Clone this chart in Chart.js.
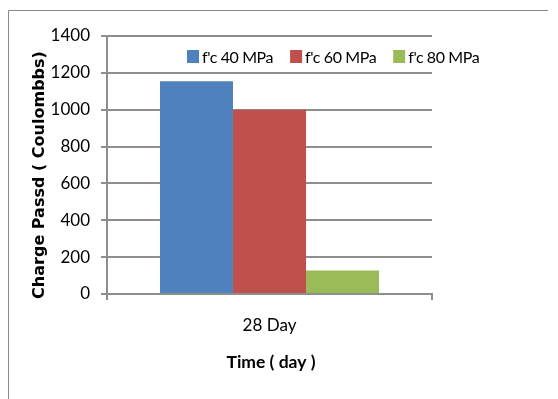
<!DOCTYPE html>
<html>
<head>
<meta charset="utf-8">
<script src="https://cdn.jsdelivr.net/npm/chart.js@4.4.1/dist/chart.umd.min.js"></script>
<style>
  html, body { margin: 0; padding: 0; background: #ffffff; }
  #wrap { width: 558px; height: 399px; position: relative; }
</style>
</head>
<body>
<div id="wrap"><canvas id="chart" width="558" height="399"></canvas></div>
<script>
// Chart data
const categories = ['28 Day'];
const seriesNames = ["f'c 40 MPa", "f'c 60 MPa", "f'c 80 MPa"];
const fc40 = [1155];
const fc60 = [1000];
const fc80 = [128];
const yTicks = [0, 200, 400, 600, 800, 1000, 1200, 1400];
const xTitle = 'Time ( day )';
const yTitle = 'Charge Passd ( Coulombbs)';

const colors = ['#4F81BD', '#C0504D', '#9BBB59'];
const narrow = "Lato, 'Liberation Sans', sans-serif";
const wide = "'DejaVu Sans', Verdana, sans-serif";
const gridGray = '#8e8e8e';

// Frame around the figure, axis titles and the in-plot legend
const decorations = {
  id: 'decorations',
  beforeDraw(chart) {
    const ctx = chart.ctx;
    ctx.save();
    ctx.strokeStyle = '#8a8a8a';
    ctx.lineWidth = 1;
    ctx.beginPath();
    ctx.moveTo(8.5, 399);
    ctx.lineTo(8.5, 10.5);
    ctx.lineTo(548, 10.5);
    ctx.stroke();
    ctx.restore();
  },
  afterDraw(chart) {
    const ctx = chart.ctx;
    ctx.save();
    ctx.fillStyle = '#000';
    // x axis title
    ctx.font = "bold 17.5px " + narrow;
    ctx.textAlign = 'center';
    ctx.textBaseline = 'middle';
    ctx.fillText(xTitle, 271, 362);
    // y axis title
    ctx.translate(40, 175);
    ctx.rotate(-Math.PI / 2);
    ctx.font = "bold 16px " + wide;
    ctx.fillText(yTitle, 0, 0);
    ctx.restore();

    // legend
    ctx.save();
    ctx.font = "16px " + narrow;
    ctx.letterSpacing = '-0.4px';
    ctx.textBaseline = 'middle';
    ctx.textAlign = 'left';
    let x = 187;
    const cy = 56.5;
    chart.data.datasets.forEach((ds) => {
      ctx.fillStyle = ds.backgroundColor;
      ctx.fillRect(x, cy - 6.5, 12, 13);
      ctx.fillStyle = '#000';
      ctx.fillText(ds.label, x + 15, cy + 1);
      x += 15 + ctx.measureText(ds.label).width + 17;
    });
    ctx.restore();
  }
};

new Chart(document.getElementById('chart'), {
  type: 'bar',
  data: {
    labels: categories,
    datasets: [
      { label: seriesNames[0], data: fc40, backgroundColor: colors[0] },
      { label: seriesNames[1], data: fc60, backgroundColor: colors[1] },
      { label: seriesNames[2], data: fc80, backgroundColor: colors[2] }
    ]
  },
  options: {
    responsive: false,
    animation: false,
    devicePixelRatio: 1,
    layout: { padding: { top: 36, right: 126, left: 0, bottom: 0 } },
    datasets: { bar: { categoryPercentage: 0.674, barPercentage: 1.0, borderWidth: 0 } },
    plugins: {
      legend: { display: false },
      tooltip: { enabled: false }
    },
    scales: {
      x: {
        afterFit(scale) { scale.height = 105; },
        grid: { drawOnChartArea: false, drawTicks: true, tickLength: 6, color: gridGray, lineWidth: 2 },
        border: { color: gridGray, width: 2 },
        ticks: { color: '#000', padding: 15, font: { family: narrow, size: 17 } }
      },
      y: {
        min: 0,
        max: 1400,
        afterFit(scale) { scale.width = 107; },
        afterBuildTicks(scale) { scale.ticks = yTicks.map(v => ({ value: v })); },
        grid: { color: gridGray, lineWidth: 2, tickLength: 6 },
        border: { color: gridGray, width: 2 },
        ticks: {
          color: '#000',
          padding: 11,
          font: { family: narrow, size: 17 },
          callback: (v) => String(v)
        }
      }
    }
  },
  plugins: [decorations]
});
</script>
</body>
</html>
